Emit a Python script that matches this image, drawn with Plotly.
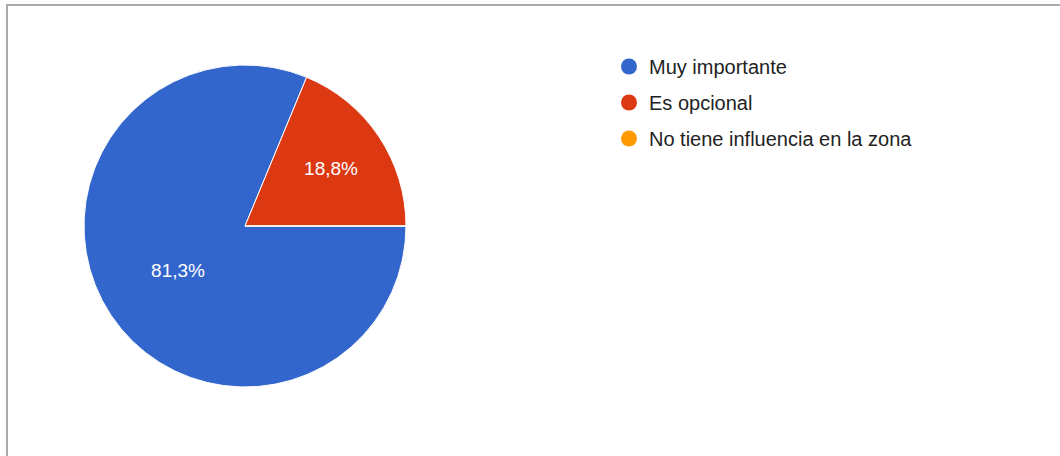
import plotly.graph_objects as go

# Data
categories = ["Muy importante", "Es opcional", "No tiene influencia en la zona"]
values = [13, 3, 0]
pct_labels = ["81,3%", "18,8%", ""]
colors = ["#3366cc", "#dc3912", "#ff9900"]

W, H = 1060, 456
cx, cy, r = 245, 226, 161

fig = go.Figure()
fig.add_trace(go.Pie(
    labels=categories,
    values=values,
    text=pct_labels,
    textinfo="text",
    texttemplate="%{text}",
    textposition="inside",
    insidetextorientation="horizontal",
    sort=False,
    direction="clockwise",
    rotation=90,
    marker=dict(colors=colors, line=dict(color="white", width=1)),
    textfont=dict(family="Liberation Sans, Arial, sans-serif", size=19, color="white"),
    domain=dict(x=[(cx - r) / W, (cx + r) / W], y=[1 - (cy + r) / H, 1 - (cy - r) / H]),
    showlegend=False,
    hoverinfo="label+percent",
))

# Legend entries with circular markers
for i, (name, col) in enumerate(zip(categories, colors)):
    fig.add_trace(go.Scatter(
        x=[None], y=[None], mode="markers", name=name,
        marker=dict(symbol="circle", size=16, color=col),
        legendgroup=f"g{i}", showlegend=True,
    ))

fig.update_layout(
    width=W, height=H,
    margin=dict(l=0, r=0, t=0, b=0),
    paper_bgcolor="white",
    plot_bgcolor="white",
    xaxis=dict(visible=False),
    yaxis=dict(visible=False),
    showlegend=True,
    legend=dict(
        x=609 / W, y=1 - 47 / H, xanchor="left", yanchor="top",
        font=dict(family="Liberation Sans, Arial, sans-serif", size=20, color="#222222"),
        tracegroupgap=7,
        bgcolor="rgba(0,0,0,0)",
        itemclick=False, itemdoubleclick=False,
    ),
    shapes=[
        dict(type="rect", xref="paper", yref="paper",
             x0=7 / W, x1=1.02, y0=-0.02, y1=1 - 5 / H,
             line=dict(color="#aaaaaa", width=2), fillcolor="rgba(0,0,0,0)", layer="below"),
    ],
)

fig.write_html("out.html")
